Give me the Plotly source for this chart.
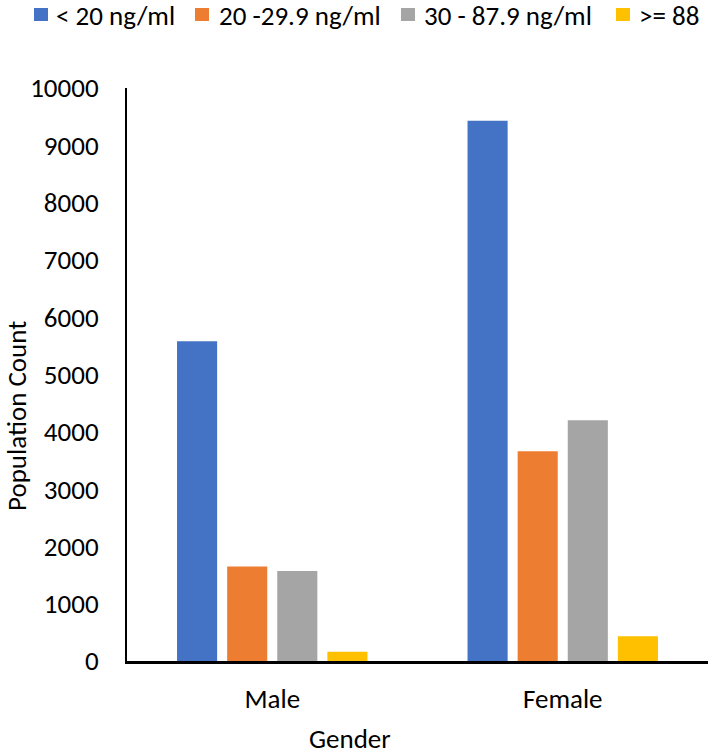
import plotly.graph_objects as go

categories = ["Male", "Female"]
series_names = ["< 20 ng/ml", "20 -29.9 ng/ml", "30 - 87.9 ng/ml", ">= 88"]
series_values = [
    [5580, 9430],
    [1650, 3660],
    [1570, 4200],
    [160, 430],
]
colors = ["#4472C4", "#ED7D31", "#A5A5A5", "#FFC000"]
y_ticks = list(range(0, 10001, 1000))

FONT = "Carlito, Lato, sans-serif"
FS = 27

W, H = 708, 754
L, R, T, B = 127, 0, 88, 93
PW, PH = W - L - R, H - T - B


def px_x(p):
    return (p - L) / PW


def px_y(q):
    return (H - B - q) / PH


fig = go.Figure()
for name, vals, col in zip(series_names, series_values, colors):
    fig.add_trace(go.Bar(x=categories, y=vals, name=name, marker_color=col,
                         marker_line_width=0))

fig.update_layout(
    width=W, height=H,
    margin=dict(l=L, r=R, t=T, b=B, autoexpand=False),
    paper_bgcolor="white", plot_bgcolor="white",
    font=dict(family=FONT, size=FS, color="black"),
    barmode="group", bargap=0.31, bargroupgap=0.2,
    showlegend=False,
)
fig.update_yaxes(range=[0, 10000], tickvals=y_ticks, tickformat="d",
                 showgrid=False, showline=True, linecolor="black", linewidth=2,
                 ticks="", zeroline=False, ticklabelstandoff=21,
                 tickfont=dict(size=FS), automargin=False)
fig.update_xaxes(showline=True, linecolor="black", linewidth=3, ticks="",
                 tickfont=dict(size=FS), ticklabelstandoff=12, automargin=False)

# axis titles
fig.add_annotation(text="Population Count", textangle=-90, x=px_x(16),
                   xref="paper", xanchor="center", y=px_y(416), yref="paper",
                   yanchor="middle", showarrow=False, font=dict(size=FS))
fig.add_annotation(text="Gender", x=px_x(350), xref="paper", xanchor="center",
                   y=px_y(738), yref="paper", yanchor="middle", showarrow=False,
                   font=dict(size=FS))

# legend (custom, top row)
sq_left = [34, 195, 401, 616]
txt_left = [54, 217, 422, 637]
for name, col, sx, tx in zip(series_names, colors, sq_left, txt_left):
    fig.add_shape(type="rect", xref="paper", yref="paper",
                  x0=px_x(sx), x1=px_x(sx + 14), y0=px_y(21), y1=px_y(8),
                  fillcolor=col, line_width=0)
    fig.add_annotation(text=name, x=px_x(tx), xref="paper", xanchor="left",
                       y=px_y(15), yref="paper", yanchor="middle",
                       showarrow=False, font=dict(size=FS))

fig.write_html("out.html", config={"displayModeBar": False},
               post_script="document.body.style.margin='0';"
                           "document.body.style.padding='0';")
